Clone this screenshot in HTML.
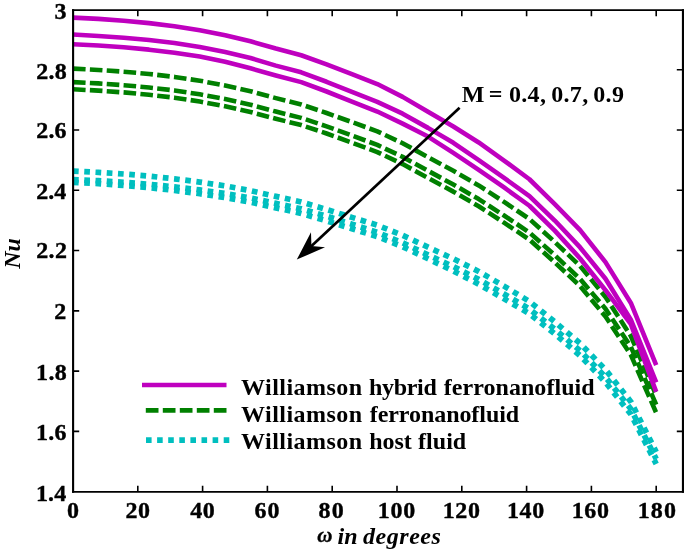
<!DOCTYPE html>
<html lang="en"><head><meta charset="utf-8"><title>Nu versus omega</title>
<style>html,body{margin:0;padding:0;background:#fff}svg{display:block}</style></head><body>
<svg width="685" height="552" viewBox="0 0 685 552">
<rect width="685" height="552" fill="#fff"/>
<path d="M137.80,492.0 v-6.2 M137.80,10.0 v6.2 M202.60,492.0 v-6.2 M202.60,10.0 v6.2 M267.40,492.0 v-6.2 M267.40,10.0 v6.2 M332.20,492.0 v-6.2 M332.20,10.0 v6.2 M397.00,492.0 v-6.2 M397.00,10.0 v6.2 M461.80,492.0 v-6.2 M461.80,10.0 v6.2 M526.60,492.0 v-6.2 M526.60,10.0 v6.2 M591.40,492.0 v-6.2 M591.40,10.0 v6.2 M656.20,492.0 v-6.2 M656.20,10.0 v6.2 M73.0,69.81 h6.2 M683.0,69.81 h-6.2 M73.0,130.06 h6.2 M683.0,130.06 h-6.2 M73.0,190.32 h6.2 M683.0,190.32 h-6.2 M73.0,250.57 h6.2 M683.0,250.57 h-6.2 M73.0,310.83 h6.2 M683.0,310.83 h-6.2 M73.0,371.09 h6.2 M683.0,371.09 h-6.2 M73.0,431.34 h6.2 M683.0,431.34 h-6.2" stroke="#000" stroke-width="1.6" fill="none"/>
<path d="M73.00,171.14 L98.36,172.36 L123.71,174.00 L149.07,176.12 L174.43,178.80 L199.78,182.06 L225.14,185.93 L250.50,190.62 L275.85,196.37 L301.21,201.93 L326.57,209.48 L351.92,217.36 L377.28,225.17 L402.63,235.34 L427.99,247.15 L453.35,258.76 L478.70,271.46 L504.06,286.12 L529.42,301.41 L554.77,321.86 L580.13,343.40 L605.49,369.68 L630.84,401.65 L656.20,451.98" fill="none" stroke="#00bfbf" stroke-width="5.7" stroke-dasharray="5.7 5.56" stroke-linejoin="round"/>
<path d="M73.00,179.56 L98.36,180.69 L123.71,182.24 L149.07,184.25 L174.43,186.83 L199.78,189.91 L225.14,193.50 L250.50,197.92 L275.85,203.38 L301.21,208.80 L326.57,216.20 L351.92,224.16 L377.28,232.32 L402.63,242.81 L427.99,254.83 L453.35,266.57 L478.70,279.39 L504.06,293.92 L529.42,309.00 L554.77,329.17 L580.13,350.77 L605.49,377.11 L630.84,409.01 L656.20,458.94" fill="none" stroke="#00bfbf" stroke-width="5.7" stroke-dasharray="5.7 5.56" stroke-linejoin="round"/>
<path d="M73.00,182.34 L98.36,183.68 L123.71,185.44 L149.07,187.66 L174.43,190.44 L199.78,193.73 L225.14,197.56 L250.50,202.20 L275.85,207.87 L301.21,213.41 L326.57,220.91 L351.92,228.76 L377.28,236.57 L402.63,246.70 L427.99,258.80 L453.35,271.01 L478.70,284.26 L504.06,298.83 L529.42,313.78 L554.77,333.78 L580.13,355.70 L605.49,382.37 L630.84,414.25 L656.20,463.93" fill="none" stroke="#00bfbf" stroke-width="5.7" stroke-dasharray="5.7 5.56" stroke-linejoin="round"/>
<path d="M73.00,68.66 L98.36,69.93 L123.71,71.68 L149.07,73.96 L174.43,76.90 L199.78,80.73 L225.14,85.50 L250.50,91.23 L275.85,98.14 L301.21,104.46 L326.57,113.04 L351.92,122.08 L377.28,131.32 L402.63,143.24 L427.99,157.11 L453.35,170.81 L478.70,185.42 L504.06,201.89 L529.42,219.00 L554.77,241.97 L580.13,266.07 L605.49,296.93 L630.84,336.02 L656.20,395.35" fill="none" stroke="#008000" stroke-width="4.6" stroke-dasharray="12.6 4.29" stroke-linejoin="round"/>
<path d="M73.00,82.10 L98.36,83.41 L123.71,85.19 L149.07,87.50 L174.43,90.45 L199.78,94.28 L225.14,99.04 L250.50,104.73 L275.85,111.59 L301.21,117.87 L326.57,126.36 L351.92,135.51 L377.28,144.89 L402.63,156.88 L427.99,170.78 L453.35,184.51 L478.70,199.09 L504.06,215.49 L529.42,232.49 L554.77,255.23 L580.13,279.04 L605.49,308.86 L630.84,346.80 L656.20,404.67" fill="none" stroke="#008000" stroke-width="4.6" stroke-dasharray="12.6 4.29" stroke-linejoin="round"/>
<path d="M73.00,89.26 L98.36,90.60 L123.71,92.40 L149.07,94.73 L174.43,97.69 L199.78,101.52 L225.14,106.27 L250.50,111.95 L275.85,118.78 L301.21,125.04 L326.57,133.49 L351.92,142.66 L377.28,152.06 L402.63,164.06 L427.99,177.94 L453.35,191.64 L478.70,206.25 L504.06,222.67 L529.42,239.68 L554.77,262.36 L580.13,286.10 L605.49,316.54 L630.84,354.89 L656.20,412.73" fill="none" stroke="#008000" stroke-width="4.6" stroke-dasharray="12.6 4.29" stroke-linejoin="round"/>
<path d="M73.00,17.60 L98.36,18.91 L123.71,20.72 L149.07,23.11 L174.43,26.19 L199.78,30.21 L225.14,35.24 L250.50,41.28 L275.85,48.57 L301.21,55.24 L326.57,64.30 L351.92,74.06 L377.28,84.05 L402.63,96.87 L427.99,111.76 L453.35,126.46 L478.70,142.46 L504.06,160.54 L529.42,179.25 L554.77,204.13 L580.13,230.11 L605.49,262.14 L630.84,302.93 L656.20,365.20" fill="none" stroke="#bf00bf" stroke-width="4.6" stroke-linejoin="round"/>
<path d="M73.00,34.50 L98.36,35.98 L123.71,37.82 L149.07,40.05 L174.43,42.98 L199.78,47.01 L225.14,52.03 L250.50,58.07 L275.85,65.60 L301.21,72.34 L326.57,81.76 L351.92,91.94 L377.28,101.91 L402.63,113.70 L427.99,127.87 L453.35,142.80 L478.70,160.06 L504.06,177.96 L529.42,196.03 L554.77,220.53 L580.13,247.44 L605.49,278.77 L630.84,319.72 L656.20,382.30" fill="none" stroke="#bf00bf" stroke-width="4.6" stroke-linejoin="round"/>
<path d="M73.00,44.30 L98.36,45.57 L123.71,47.32 L149.07,49.66 L174.43,52.66 L199.78,56.52 L225.14,61.84 L250.50,68.28 L275.85,75.46 L301.21,82.14 L326.57,91.49 L351.92,101.60 L377.28,111.54 L402.63,123.61 L427.99,136.57 L453.35,152.85 L478.70,169.87 L504.06,187.47 L529.42,205.75 L554.77,230.62 L580.13,258.45 L605.49,290.19 L630.84,324.21 L656.20,391.90" fill="none" stroke="#bf00bf" stroke-width="4.6" stroke-linejoin="round"/>
<path d="M72,10.2 H684 M72,491.9 H684" stroke="#000" stroke-width="1.7" fill="none"/>
<path d="M73.1,9.35 V492.75 M682.95,9.35 V492.75" stroke="#000" stroke-width="2.1" fill="none"/>
<g font-family="'Liberation Serif', serif" font-weight="bold" font-size="24" fill="#000" stroke="#000" stroke-width="0.4">
<text transform="translate(66.99,518.4) scale(1,0.94)" letter-spacing="0.000">0</text>
<text transform="translate(125.59,518.4) scale(1,0.94)" letter-spacing="0.372">20</text>
<text transform="translate(190.17,518.4) scale(1,0.94)" letter-spacing="0.642">40</text>
<text transform="translate(254.38,518.4) scale(1,0.94)" letter-spacing="1.034">60</text>
<text transform="translate(318.60,518.4) scale(1,0.94)" letter-spacing="1.111">80</text>
<text transform="translate(377.68,518.4) scale(1,0.94)" letter-spacing="0.768">100</text>
<text transform="translate(442.68,518.4) scale(1,0.94)" letter-spacing="0.643">120</text>
<text transform="translate(506.88,518.4) scale(1,0.94)" letter-spacing="0.668">140</text>
<text transform="translate(571.73,518.4) scale(1,0.94)" letter-spacing="0.643">160</text>
<text transform="translate(637.68,518.4) scale(1,0.94)" letter-spacing="1.118">180</text>
<text transform="translate(54.50,19.3) scale(1,0.94)" letter-spacing="0.000">3</text>
<text transform="translate(36.19,78.5) scale(1,0.94)" letter-spacing="0.252">2.8</text>
<text transform="translate(36.19,138.3) scale(1,0.94)" letter-spacing="0.205">2.6</text>
<text transform="translate(36.19,199) scale(1,0.94)" letter-spacing="0.077">2.4</text>
<text transform="translate(36.19,257.9) scale(1,0.94)" letter-spacing="0.370">2.2</text>
<text transform="translate(54.29,318.5) scale(1,0.94)" letter-spacing="0.000">2</text>
<text transform="translate(36.08,379.5) scale(1,0.94)" letter-spacing="0.309">1.8</text>
<text transform="translate(36.08,439.9) scale(1,0.94)" letter-spacing="0.263">1.6</text>
<text transform="translate(35.88,501.0) scale(1,0.94)" letter-spacing="0.234">1.4</text>
</g>
<text font-family="'Liberation Serif', serif" font-weight="bold" font-style="italic" font-size="24" y="544.2"><tspan x="317.16" dy="-2" font-size="21" stroke="#000" stroke-width="0.35">ω</tspan> <tspan x="337.39" dy="2" letter-spacing="0.266">in</tspan> <tspan x="362.92" letter-spacing="0.564">degrees</tspan></text>
<text font-family="'Liberation Serif', serif" font-weight="bold" font-style="italic" font-size="24" transform="translate(20,268.8) rotate(-90)" textLength="30.6" lengthAdjust="spacing">Nu</text>
<path d="M459.6,107.8 L310.70,246.64" stroke="#000" stroke-width="2.7" fill="none"/>
<path d="M296.80,259.60 L325.03,247.36 L311.43,245.96 L310.99,232.29 Z" fill="#000"/>
<path d="M142,385 H226.5" stroke="#bf00bf" stroke-width="4.6" fill="none"/>
<path d="M226.5,410.4 H142" stroke="#008000" stroke-width="4.6" stroke-dasharray="12.7 4.3" fill="none"/>
<path d="M146,440.1 H231" stroke="#00bfbf" stroke-width="5.7" stroke-dasharray="5.6 5.5" fill="none"/>
<g font-family="'Liberation Serif', serif" font-weight="bold" font-size="24" fill="#000">
<text y="394.8" ><tspan x="240.96" letter-spacing="0.472">Williamson</tspan> <tspan x="368.90" letter-spacing="-0.279">hybrid</tspan> <tspan x="443.72" letter-spacing="0.052">ferronanofluid</tspan></text>
<text y="421.9" ><tspan x="240.96" letter-spacing="0.472">Williamson</tspan> <tspan x="369.72" letter-spacing="-0.063">ferronanofluid</tspan></text>
<text y="448.5" ><tspan x="240.96" letter-spacing="0.472">Williamson</tspan> <tspan x="369.30" letter-spacing="-0.092">host</tspan> <tspan x="418.12" letter-spacing="0.005">fluid</tspan></text>
<text y="102.3" ><tspan x="461.79" letter-spacing="0.000">M</tspan> <tspan x="488.80" letter-spacing="0.000">=</tspan> <tspan x="508.99" letter-spacing="0.309">0.4,</tspan> <tspan x="551.19" letter-spacing="0.343">0.7,</tspan> <tspan x="593.19" letter-spacing="0.366">0.9</tspan></text>
</g>
</svg></body></html>
